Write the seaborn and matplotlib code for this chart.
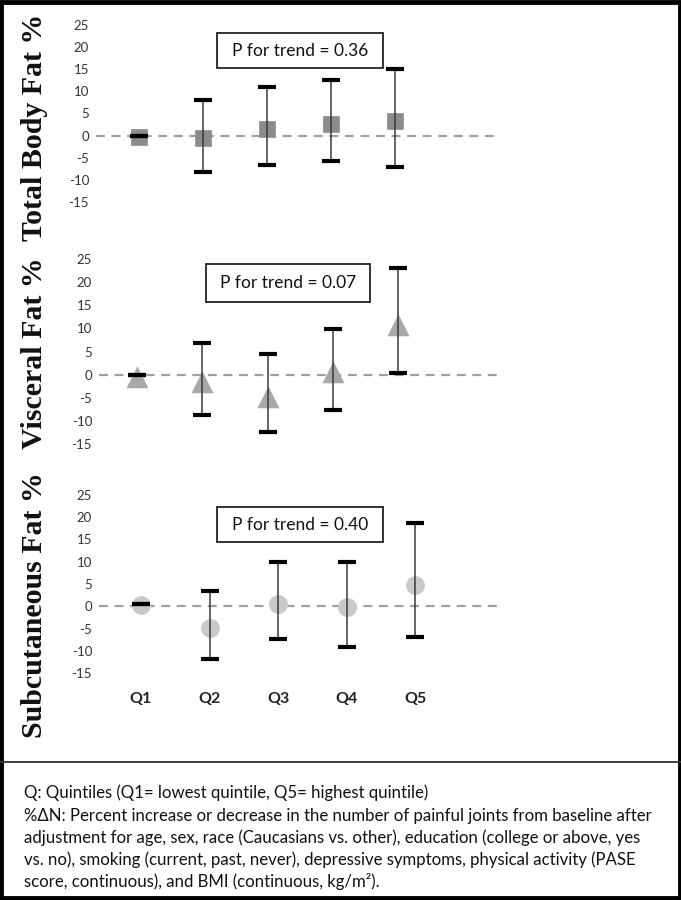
import matplotlib
matplotlib.use("Agg")
import matplotlib.pyplot as plt
import seaborn as sns
import pandas as pd
import numpy as np
from matplotlib.patches import Rectangle
from matplotlib.lines import Line2D

sns.set_theme(style="white")
plt.rcParams["axes.unicode_minus"] = False
plt.rcParams["font.family"] = ["Lato", "DejaVu Sans"]

quintiles = ["Q1", "Q2", "Q3", "Q4", "Q5"]

total_mean = [-0.4, -0.5, 1.5, 2.6, 3.2]
total_low = [0.0, -8.3, -6.6, -5.8, -7.0]
total_high = [0.0, 8.1, 10.9, 12.6, 15.1]

visc_mean = [-0.5, -1.6, -4.8, 0.6, 10.8]
visc_low = [0.0, -8.7, -12.4, -7.6, 0.4]
visc_high = [0.0, 6.9, 4.5, 9.9, 23.1]

subq_mean = [0.3, -4.8, 0.6, -0.1, 4.8]
subq_low = [0.5, -11.9, -7.4, -9.1, -6.9]
subq_high = [0.5, 3.4, 10.0, 10.0, 18.7]

y_ticks = [25, 20, 15, 10, 5, 0, -5, -10, -15]
p_labels = ["P for trend = 0.36", "P for trend = 0.07", "P for trend = 0.40"]
y_labels = ["Total Body Fat %", "Visceral Fat %", "Subcutaneous Fat %"]

footnote = [
    "Q: Quintiles (Q1= lowest quintile, Q5= highest quintile)",
    "%\u0394N: Percent increase or decrease in the number of painful joints from baseline after",
    "adjustment for age, sex, race (Caucasians vs. other), education (college or above, yes",
    "vs. no), smoking (current, past, never), depressive symptoms, physical activity (PASE",
    "score, continuous), and BMI (continuous, kg/m\u00b2).",
]

W, H = 681, 900
fig = plt.figure(figsize=(W / 100, H / 100), dpi=100)

def rect_px(left, top, right, bottom):
    return [left / W, 1 - bottom / H, (right - left) / W, (bottom - top) / H]

panels = [
    dict(box=(96, 25, 496, 202), xlim=(-(139 - 96) / 64, 4 + (496 - 395) / 64),
         mean=total_mean, low=total_low, high=total_high, marker="s", ms=12,
         color="#8c8c8c", pbox=(217, 33, 383, 68), ylab_y=127),
    dict(box=(99, 259, 502, 444), xlim=(-(137 - 99) / 65.25, 4 + (502 - 398) / 65.25),
         mean=visc_mean, low=visc_low, high=visc_high, marker="^", ms=15,
         color="#a8a8a8", pbox=(206, 264, 370, 302), ylab_y=353),
    dict(box=(99, 495, 502, 673), xlim=(-(141 - 99) / 68.5, 4 + (502 - 415) / 68.5),
         mean=subq_mean, low=subq_low, high=subq_high, marker="o", ms=13,
         color="#c9c9c9", pbox=(217, 507, 383, 542), ylab_y=605),
]

for i, p in enumerate(panels):
    ax = fig.add_axes(rect_px(*p["box"]))
    df = pd.DataFrame({"q": quintiles, "m": p["mean"], "lo": p["low"], "hi": p["high"]})
    df["x"] = np.arange(len(df))
    ax.axhline(0, color="#a0a0a0", lw=1.6, ls=(0, (4, 3)), zorder=1)
    sns.scatterplot(data=df, x="x", y="m", marker=p["marker"], s=p["ms"] ** 2,
                    color=p["color"], edgecolor=p["color"], linewidth=0.5,
                    ax=ax, zorder=2, clip_on=False, legend=False)
    mid = (df["lo"] + df["hi"]) / 2
    half = (df["hi"] - df["lo"]) / 2
    eb = ax.errorbar(df["x"], mid, yerr=half, fmt="none", ecolor="#3a3a3a",
                     elinewidth=1.1, capsize=6.5, capthick=3.0, zorder=3)
    for cap in eb[1]:
        cap.set_color("black")
        cap.set_markeredgecolor("black")
        cap.set_clip_on(False)
    for lc in eb[2]:
        lc.set_clip_on(False)
    ax.set_xlim(*p["xlim"])
    ax.set_ylim(-15, 25)
    ax.set_yticks(y_ticks)
    ax.set_yticklabels([str(t) for t in y_ticks], fontsize=9.5, color="#333333")
    ax.tick_params(axis="y", length=0, pad=5)
    if i == 2:
        ax.set_xticks(range(5))
        ax.set_xticklabels(quintiles, fontsize=11.5, fontweight="bold", color="#222222")
        ax.tick_params(axis="x", length=0, pad=14)
    else:
        ax.set_xticks([])
    ax.set_xlabel("")
    ax.set_ylabel("")
    for s in ax.spines.values():
        s.set_visible(False)
    ax.patch.set_alpha(0)

    l, t, r, b = p["pbox"]
    fig.patches.append(Rectangle((l / W, 1 - b / H), (r - l) / W, (b - t) / H,
                                 transform=fig.transFigure, fill=False,
                                 edgecolor="#222222", lw=1.3))
    fig.text((l + r) / 2 / W, 1 - (t + b) / 2 / H, p_labels[i], ha="center", va="center",
             fontsize=12.5, color="#111111")

    fig.text(35 / W, 1 - p["ylab_y"] / H, y_labels[i], rotation=90, ha="center", va="center",
             fontsize=21.5, fontweight="bold", family=["Liberation Serif", "DejaVu Serif"],
             color="#111111")

fig.lines.append(Line2D([0, 1], [1 - 762 / H, 1 - 762 / H], transform=fig.transFigure,
                        color="#333333", lw=1.3))
fig.patches.append(Rectangle((0.002, 0.002), 0.996, 0.996, transform=fig.transFigure,
                             fill=False, edgecolor="black", lw=3.5))

ys = [793, 816, 838, 860, 882]
for line, yy in zip(footnote, ys):
    fig.text(24 / W, 1 - yy / H, line, ha="left", va="center", fontsize=12.1, color="#111111")

fig.savefig("out.png", dpi=100, facecolor="white")
